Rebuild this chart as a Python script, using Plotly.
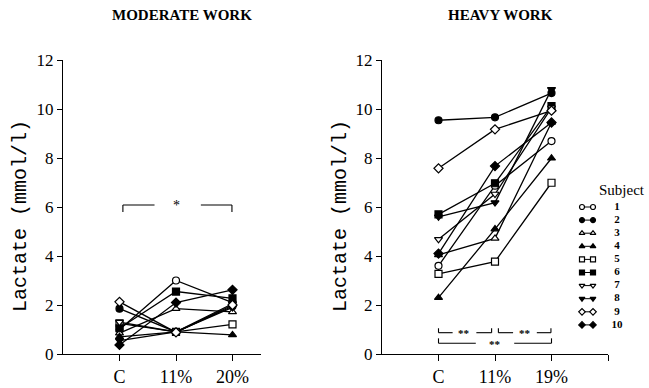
import plotly.graph_objects as go

W, H = 649, 388

# ---------------- data ----------------
subjects = ["1", "2", "3", "4", "5", "6", "7", "8", "9", "10"]
symbols = ["circle", "circle", "triangle-up", "triangle-up", "square", "square",
           "triangle-down", "triangle-down", "diamond", "diamond"]
filled = [False, True, False, True, False, True, False, True, False, True]

mod_labels = ["C", "11%", "20%"]
heavy_labels = ["C", "11%", "19%"]

# Moderate work (mmol/l), one value per subject
mod_C = [1.00, 1.85, 0.85, 0.70, 1.25, 1.05, 1.30, 0.55, 2.13, 0.37]
mod_11 = [3.00, 0.90, 1.85, 0.90, 0.90, 2.55, 0.90, 0.90, 0.88, 2.10]
mod_20 = [2.10, 1.95, 1.72, 0.78, 1.21, 2.27, 2.05, 1.90, 2.00, 2.62]

# Heavy work (mmol/l)
heavy_C = [3.60, 9.54, 4.05, 2.30, 3.27, 5.70, 4.68, 5.60, 7.58, 4.10]
heavy_11 = [6.87, 9.66, 4.72, 5.10, 3.77, 6.97, 6.53, 6.18, 9.17, 7.67]
heavy_19 = [8.69, 10.65, 9.45, 7.99, 6.99, 10.12, 10.05, 10.80, 9.93, 9.45]

y_ticks = [0, 2, 4, 6, 8, 10, 12]

# ---------------- figure ----------------
SERIF = "Liberation Serif"
MONO = "Liberation Mono"
fig = go.Figure()

def marker_for(i, size=7):
    return dict(symbol=symbols[i], size=size,
                color="black" if filled[i] else "white",
                line=dict(color="black", width=1.2))

panels = [("x", "y", [mod_C, mod_11, mod_20]),
          ("x2", "y2", [heavy_C, heavy_11, heavy_19])]

# lines first
for xa, ya, cols in panels:
    for i in range(len(subjects)):
        fig.add_trace(go.Scatter(x=[0, 1, 2], y=[c[i] for c in cols], mode="lines",
                                 line=dict(color="black", width=1.3),
                                 xaxis=xa, yaxis=ya, showlegend=False, hoverinfo="skip"))
# markers on top
for xa, ya, cols in panels:
    for i in range(len(subjects)):
        fig.add_trace(go.Scatter(x=[0, 1, 2], y=[c[i] for c in cols], mode="markers",
                                 marker=marker_for(i), name="Subject " + subjects[i],
                                 xaxis=xa, yaxis=ya, showlegend=False))

# custom legend on a hidden pixel-scaled axis
leg_top, leg_step = 207, 13.1
leg_rows = [leg_top + i * leg_step for i in range(len(subjects))]
for i, ry in enumerate(leg_rows):
    fig.add_trace(go.Scatter(x=[582, 593], y=[ry, ry], mode="lines+markers",
                             line=dict(color="black", width=1),
                             marker=marker_for(i, size=5),
                             xaxis="x3", yaxis="y3", showlegend=False, hoverinfo="skip"))
fig.add_trace(go.Scatter(x=[617] * len(subjects), y=leg_rows, mode="text",
                         text=["<b>" + s + "</b>" for s in subjects],
                         textposition="middle center",
                         textfont=dict(family=SERIF, size=11, color="black"),
                         xaxis="x3", yaxis="y3", showlegend=False, hoverinfo="skip"))

annotations = []
annotations.append(dict(x=622 / W, y=1 - 190 / H, xref="paper", yref="paper",
                        text="Subject", showarrow=False, xanchor="center", yanchor="middle",
                        font=dict(family=SERIF, size=15, color="black")))

# titles
annotations.append(dict(x=182 / W, y=1 - 15 / H, xref="paper", yref="paper",
                        text="<b>MODERATE WORK</b>", showarrow=False,
                        xanchor="center", yanchor="middle",
                        font=dict(family=SERIF, size=15, color="black")))
annotations.append(dict(x=500 / W, y=1 - 15 / H, xref="paper", yref="paper",
                        text="<b>HEAVY WORK</b>", showarrow=False,
                        xanchor="center", yanchor="middle",
                        font=dict(family=SERIF, size=15, color="black")))
for xp in (20, 340):
    annotations.append(dict(x=xp / W, y=1 - 216 / H, xref="paper", yref="paper",
                            text="Lactate (mmol/l)", showarrow=False, textangle=-90,
                            xanchor="center", yanchor="middle",
                            font=dict(family=MONO, size=20, color="black")))

# significance brackets
shapes = []
def seg(xref, yref, x0, y0, x1, y1):
    shapes.append(dict(type="line", xref=xref, yref=yref, x0=x0, y0=y0, x1=x1, y1=y1,
                       line=dict(color="black", width=1.1)))

def bracket(xref, yref, xa, xb, y, tick, gap_l, gap_r):
    seg(xref, yref, xa, y, gap_l, y)
    seg(xref, yref, gap_r, y, xb, y)
    seg(xref, yref, xa, y, xa, y + tick)
    seg(xref, yref, xb, y, xb, y + tick)

bracket("x", "y", 0.06, 1.99, 6.08, -0.28, 0.62, 1.44)
annotations.append(dict(x=1.0, y=6.05, xref="x", yref="y", text="*", showarrow=False,
                        font=dict(family=SERIF, size=14, color="black"), yanchor="middle"))

bracket("x2", "y2", 0.0, 0.94, 0.87, 0.18, 0.25, 0.67)
bracket("x2", "y2", 1.06, 1.99, 0.87, 0.18, 1.32, 1.74)
bracket("x2", "y2", 0.0, 2.0, 0.44, 0.2, 0.66, 1.34)
for sx, sy in ((0.46, 0.84), (1.53, 0.84), (1.0, 0.41)):
    annotations.append(dict(x=sx, y=sy, xref="x2", yref="y2", text="<b>**</b>",
                            showarrow=False, yanchor="middle",
                            font=dict(family=SERIF, size=11, color="black")))

px_unit = 56.5
ydom = [1 - 354 / H, 1 - 60 / H]
axis_common = dict(showline=True, linecolor="black", linewidth=1.3, ticks="outside",
                   tickcolor="black", tickwidth=1.2, showgrid=False, zeroline=False,
                   automargin=False)

fig.update_layout(
    template="none",
    width=W, height=H, margin=dict(l=0, r=0, t=0, b=0, pad=0), autosize=False,
    paper_bgcolor="white", plot_bgcolor="rgba(0,0,0,0)", showlegend=False,
    xaxis=dict(domain=[63 / W, (63 + 3.5 * px_unit) / W], range=[-1, 2.5],
               tickvals=[0, 1, 2], ticktext=mod_labels, ticklen=6, anchor="y",
               tickfont=dict(family=SERIF, size=18, color="black"), **axis_common),
    yaxis=dict(domain=ydom, range=[0, 12], tickvals=y_ticks, ticklen=5, anchor="x",
               tickfont=dict(family=SERIF, size=17, color="black"), **axis_common),
    xaxis2=dict(domain=[382 / W, (382 + 4 * px_unit) / W], range=[-1, 3],
                tickvals=[0, 1, 2, 3], ticktext=heavy_labels + [""], ticklen=6,
                anchor="y2", tickfont=dict(family=SERIF, size=18, color="black"),
                **axis_common),
    yaxis2=dict(domain=ydom, range=[0, 12], tickvals=y_ticks, ticklen=5, anchor="x2",
                tickfont=dict(family=SERIF, size=17, color="black"), **axis_common),
    xaxis3=dict(domain=[0, 1], range=[0, W], visible=False, anchor="y3",
                automargin=False),
    yaxis3=dict(domain=[0, 1], range=[H, 0], visible=False, anchor="x3",
                automargin=False),
    annotations=annotations, shapes=shapes,
)

fig.write_html("out.html")
